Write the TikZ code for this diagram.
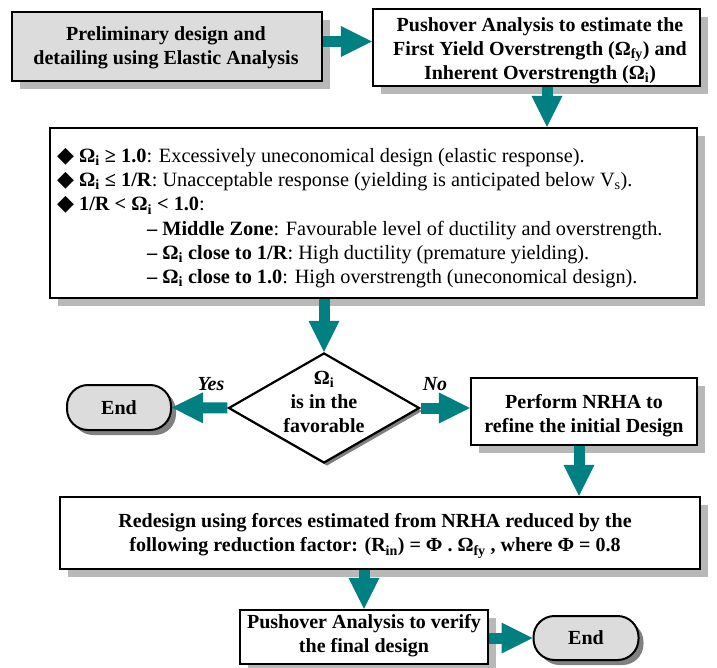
\documentclass[tikz,border=0pt]{standalone}
\usepackage{fontspec}
\setmainfont{Liberation Serif}
\newfontfamily\dejavu{DejaVu Sans}
\usetikzlibrary{arrows.meta,shadows,shapes.geometric}
\definecolor{teal1}{HTML}{008080}
\definecolor{boxgray}{HTML}{DCDCDC}
\definecolor{shadowgray}{HTML}{B8B8B8}
\definecolor{darkshadow}{HTML}{808080}
\newcommand{\mysub}[1]{\textsubscript{#1}}
\newcommand{\bul}{{\dejavu\fontsize{22}{24}\selectfont\char"25C6}}
\begin{document}
\begin{tikzpicture}[x=1pt,y=-1pt,
  every node/.style={font=\fontsize{20}{24}\selectfont\bfseries},
  box/.style={draw=black, line width=2.2pt, fill=white, inner sep=0pt,
    drop shadow={shadow xshift=8pt, shadow yshift=-8pt, fill=shadowgray, opacity=1}},
  txt/.style={align=center, inner sep=0pt},
  endbox/.style={draw=black, line width=2pt, fill=boxgray, inner sep=0pt, rounded corners=21pt,
    drop shadow={shadow xshift=5pt, shadow yshift=-5pt, fill=darkshadow, opacity=1}},
  dia/.style={draw=black, line width=2.2pt, fill=white, shape=diamond, inner sep=0pt,
    drop shadow={shadow xshift=3pt, shadow yshift=-3pt, fill=darkshadow, opacity=1}},
  lbl/.style={font=\fontsize{20}{24}\selectfont\bfseries\itshape},
  flow/.style={draw=teal1, line width=11pt, -{Triangle[length=31pt,width=31pt,line width=0pt]}},
]
\useasboundingbox (0,0) rectangle (717,668);

\node[box, fill=boxgray, minimum width=310pt, minimum height=69pt] (b1) at (167,46.5) {};
\node[txt] (b1t) at (166,47.5) {Preliminary design and\\detailing using Elastic Analysis};
\node[box, minimum width=327pt, minimum height=77pt] (b2) at (536.5,47.5) {};
\node[txt] (b2t) at (540,50.5) {Pushover Analysis to estimate the\\First Yield Overstrength (Ω\mysub{fy}) and\\Inherent Overstrength (Ω\mysub{i})};
\node[box, minimum width=647pt, minimum height=170pt] (b3) at (373.5,213) {};
\node[anchor=north west, align=left, inner sep=0pt, font=\fontsize{20.3}{24.3}\selectfont] (t3) at (57,148)
  {\bul\ \textbf{Ω\mysub{i} ≥ 1.0}: Excessively uneconomical design (elastic response).\\
   \bul\ \textbf{Ω\mysub{i} ≤ 1/R}: Unacceptable response (yielding is anticipated below V\mysub{s}).\\
   \bul\ \textbf{1/R < Ω\mysub{i} < 1.0}:\\
   \hspace*{90pt}\textbf{– Middle Zone}: Favourable level of ductility and overstrength.\\
   \hspace*{90pt}\textbf{– Ω\mysub{i} close to 1/R}: High ductility (premature yielding).\\
   \hspace*{90pt}\textbf{– Ω\mysub{i} close to 1.0}: High overstrength (uneconomical design).};
\node[dia, minimum width=191pt, minimum height=110pt] (d) at (324,408) {};
\node[txt] (dt) at (324,402) {Ω\mysub{i}\\is in the\\favorable};
\node[endbox, minimum width=104pt, minimum height=45pt] (e1) at (119,407.5) {End};
\node[box, minimum width=226pt, minimum height=67pt] (b4) at (584,411.5) {};
\node[txt] (b4t) at (584,415.5) {Perform NRHA to\\refine the initial Design};
\node[box, minimum width=640pt, minimum height=72pt] (b5) at (380,533) {};
\node[txt] (b5t) at (375,536) {Redesign using forces estimated from NRHA reduced by the\\following reduction factor: (R\mysub{in}) = Φ . Ω\mysub{fy} , where Φ = 0.8};
\node[box, minimum width=248pt, minimum height=54pt] (b6) at (364,637) {};
\node[txt] (b6t) at (364,635.5) {Pushover Analysis to verify\\the final design};
\node[endbox, minimum width=105pt, minimum height=44pt] (e2) at (586,638) {End};
\node[lbl] (yes) at (211,384) {Yes};
\node[lbl] (no) at (435,384) {No};

\coordinate (ya) at (0,41.5);
\coordinate (xa) at (547,0);
\coordinate (xb) at (579,0);
\draw[flow] (b1.east |- ya) -- (b2.west |- ya);
\draw[flow] (b2.south -| xa) -- (b3.north -| xa);
\draw[flow] (b3.south -| d.north) -- (d.north);
\draw[flow] (d.west) -- (e1.east);
\draw[flow] (d.east) -- (b4.west |- d.east);
\draw[flow] (b4.south -| xb) -- (b5.north -| xb);
\draw[flow] (b5.south -| b6.north) -- (b6.north);
\draw[flow] (b6.east |- e2.west) -- (e2.west);
\end{tikzpicture}
\end{document}
